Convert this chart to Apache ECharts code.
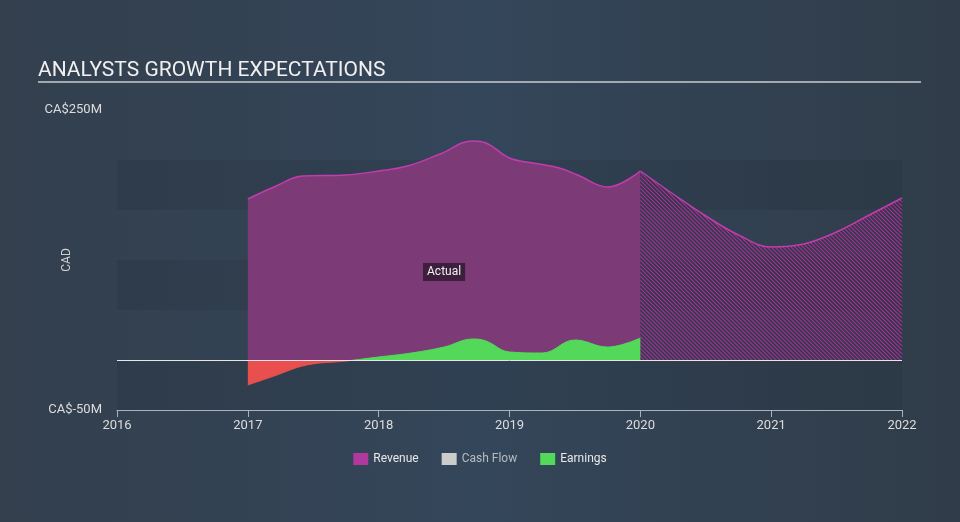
<!DOCTYPE html>
<html>
<head>
<meta charset="utf-8">
<script src="https://cdn.jsdelivr.net/npm/echarts@6/dist/echarts.min.js"></script>
<style>
html,body{margin:0;padding:0;background:#334252;}
#chart{width:960px;height:522px;}
</style>
</head>
<body>
<div id="chart"></div>
<script>
// ---- data ----
const xTicks = [2016, 2017, 2018, 2019, 2020, 2021, 2022];
const yTickLabels = {"250": "CA$250M", "-50": "CA$-50M"};
const revenueActualX = [2017.0, 2017.2, 2017.42, 2017.75, 2018.0, 2018.22, 2018.47, 2018.72, 2018.82, 2019.0, 2019.18, 2019.38, 2019.52, 2019.75, 2020.0];
const revenueActualY = [161, 173, 184, 185, 189, 194, 206, 219, 217, 202, 197, 192, 185, 173, 189];
const revenueForecastX = [2020.0, 2020.25, 2020.5, 2020.75, 2021.0, 2021.25, 2021.5, 2021.75, 2022.0];
const revenueForecastY = [189, 166, 144, 125, 113, 116, 128, 145, 162];
const earningsX = [2017.0, 2017.2, 2017.45, 2017.75, 2018.0, 2018.25, 2018.5, 2018.72, 2018.82, 2019.0, 2019.25, 2019.5, 2019.75, 2020.0];
const earningsY = [-25, -16, -5, -1, 3, 7, 13, 21, 19, 8, 7, 20, 13, 22];
const actualLabelPos = [2018.5, 88];

const pair = (xs, ys) => xs.map((x, i) => [x, ys[i]]);

// hatch pattern
const pc = document.createElement('canvas');
pc.width = 4; pc.height = 4;
const g = pc.getContext('2d');
g.fillStyle = 'rgba(60,40,70,0.35)';
g.fillRect(0, 0, 4, 4);
g.strokeStyle = 'rgba(180,52,160,0.85)';
g.lineWidth = 1.2;
g.beginPath();
g.moveTo(-1, -1); g.lineTo(5, 5);
g.moveTo(-1, 3); g.lineTo(1, 5);
g.moveTo(3, -1); g.lineTo(5, 1);
g.stroke();

const chart = echarts.init(document.getElementById('chart'));
const font = 'Roboto, "Open Sans", sans-serif';
chart.setOption({
  backgroundColor: {
    type: 'linear', x: 0, y: 0, x2: 1, y2: 0,
    colorStops: [
      {offset: 0, color: '#333f4d'},
      {offset: 0.5, color: '#34465a'},
      {offset: 1, color: '#303c49'}
    ]
  },
  animation: false,
  textStyle: {fontFamily: font},
  title: {
    text: 'ANALYSTS GROWTH EXPECTATIONS',
    left: 33, top: 55,
    textStyle: {color: '#f0f0f0', fontSize: 21, fontWeight: 'normal', fontFamily: font}
  },
  graphic: [{
    type: 'line',
    shape: {x1: 38, y1: 82, x2: 921, y2: 82},
    style: {stroke: '#c8ccd0', lineWidth: 1.5}
  }],
  grid: {left: 117, right: 58, top: 110, bottom: 112},
  legend: {
    bottom: 52, left: 'center',
    itemWidth: 15, itemHeight: 12, itemGap: 23,
    icon: 'rect',
    textStyle: {color: '#e8e8e8', fontSize: 12, fontFamily: font},
    data: [
      {name: 'Revenue', itemStyle: {color: '#b0399e'}},
      {name: 'Cash Flow', itemStyle: {color: '#cccccc'}, textStyle: {color: '#b8bcc0'}},
      {name: 'Earnings', itemStyle: {color: '#53d85a'}}
    ],
    selectedMode: false
  },
  xAxis: {
    type: 'value', min: 2016, max: 2022, interval: 1,
    axisLine: {show: true, onZero: false, lineStyle: {color: '#aab2bb', width: 1}},
    axisTick: {show: true, length: 7, lineStyle: {color: '#aab2bb'}},
    axisLabel: {color: '#dddddd', fontSize: 13, margin: 9, formatter: v => String(v)},
    splitLine: {show: false}
  },
  yAxis: {
    type: 'value', min: -50, max: 250, interval: 50,
    name: 'CAD', nameLocation: 'middle', nameGap: 44, nameRotate: 90,
    nameMoveOverlap: false,
    nameTextStyle: {color: '#d0d0d0', fontSize: 12},
    axisLine: {show: false}, axisTick: {show: false},
    axisLabel: {color: '#dddddd', fontSize: 13, margin: 15, formatter: v => yTickLabels[String(v)] || ''},
    splitLine: {show: false},
    splitArea: {show: true, areaStyle: {color: ['rgba(20,30,40,0.13)', 'rgba(0,0,0,0)']}}
  },
  visualMap: {
    show: false, type: 'piecewise', seriesIndex: 3, dimension: 1,
    pieces: [{gte: -1000, lt: 0, color: '#ea4f4f'}, {gte: 0, lte: 1000, color: '#53d85a'}]
  },
  series: [
    {
      name: 'Revenue', type: 'line', smooth: 0.4, symbol: 'none',
      data: pair(revenueActualX, revenueActualY),
      lineStyle: {color: '#c23cae', width: 1.5},
      itemStyle: {color: '#b0399e'},
      areaStyle: {color: '#7c3a77', opacity: 1},
      z: 2,
      markPoint: {
        symbol: 'rect', symbolSize: 1,
        itemStyle: {color: 'rgba(0,0,0,0)'},
        label: {
          show: true, position: 'inside', formatter: 'Actual',
          color: '#f0f0f0', fontSize: 12, backgroundColor: '#3c1f3c',
          padding: [3, 4]
        },
        data: [{coord: actualLabelPos}]
      }
    },
    {
      name: 'Revenue', type: 'line', smooth: 0.4, symbol: 'none',
      data: pair(revenueForecastX, revenueForecastY),
      lineStyle: {color: '#c23cae', width: 1.5},
      itemStyle: {color: '#b0399e'},
      areaStyle: {color: {image: pc, repeat: 'repeat'}, opacity: 1},
      z: 2
    },
    {
      name: 'Cash Flow', type: 'line', data: [], itemStyle: {color: '#cccccc'}
    },
    {
      name: 'Earnings', type: 'line', smooth: 0.4, symbol: 'none',
      data: pair(earningsX, earningsY),
      lineStyle: {width: 1},
      itemStyle: {color: '#53d85a'},
      areaStyle: {opacity: 1},
      z: 3,
      markLine: {
        silent: true, symbol: 'none', label: {show: false},
        lineStyle: {color: '#e6e6e6', width: 1, type: 'solid'},
        data: [{yAxis: 0}]
      }
    }
  ]
});
</script>
</body>
</html>
